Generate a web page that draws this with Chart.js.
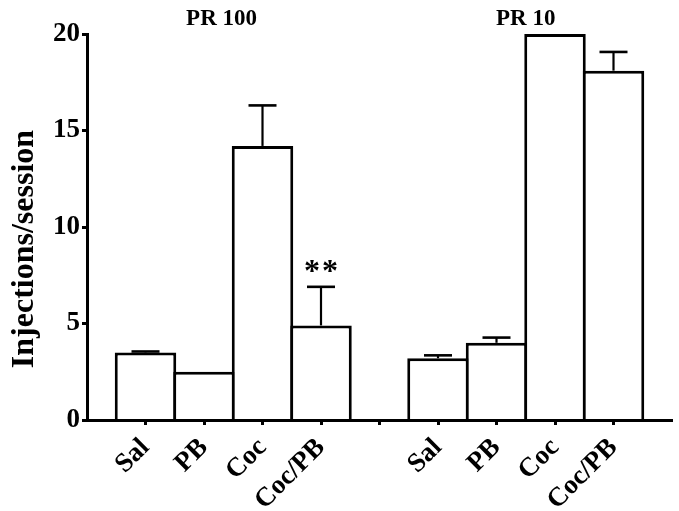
<!DOCTYPE html>
<html>
<head>
<meta charset="utf-8">
<script src="https://cdn.jsdelivr.net/npm/chart.js@4"></script>
<style>
  html, body { margin: 0; padding: 0; background: #ffffff; }
  #wrap { width: 679px; height: 511px; }
</style>
</head>
<body>
<div id="wrap"><canvas id="c" width="679" height="511"></canvas></div>
<script>
// ---- data ----
const conditions = ['Sal', 'PB', 'Coc', 'Coc/PB'];
const groupTitles = ['PR 100', 'PR 10'];
const pr100Means = [3.5, 2.5, 14.2, 4.9];
const pr100Sem   = [0.05, 0, 2.1, 2.0];
const pr10Means  = [3.2, 4.0, 20, 18.1];
const pr10Sem    = [0.15, 0.27, 0, 0.97];
const yTicks = [0, 5, 10, 15, 20];
const yTitle = 'Injections/session';
const significance = '**'; // marked over PR 100 Coc/PB

// build the category table (empty slots separate/flank the groups)
const labels = [''].concat(conditions, [''], conditions, ['']);
const values = [null].concat(pr100Means, [null], pr10Means, [null]);
const errors = [0].concat(pr100Sem, [0], pr10Sem, [0]);
const sigIndex = 1 + conditions.indexOf('Coc/PB');

const FONT = 'Liberation Serif';

const overlay = {
  id: 'overlay',
  afterDraw(chart) {
    const ctx = chart.ctx;
    const x = chart.scales.x, y = chart.scales.y;
    const meta = chart.getDatasetMeta(0);
    ctx.save();
    // error bars
    ctx.strokeStyle = '#000';
    values.forEach((v, i) => {
      const e = errors[i];
      if (v === null || !e) return;
      const bar = meta.data[i];
      const cx = bar.x;
      const yTop = y.getPixelForValue(v);
      const yCap = y.getPixelForValue(v + e);
      ctx.lineWidth = 2.2;
      ctx.beginPath(); ctx.moveTo(cx, yTop); ctx.lineTo(cx, yCap); ctx.stroke();
      ctx.lineWidth = 2.6;
      ctx.beginPath(); ctx.moveTo(cx - 14, yCap); ctx.lineTo(cx + 14, yCap); ctx.stroke();
    });
    // significance stars
    {
      const cx = meta.data[sigIndex].x;
      const yCap = y.getPixelForValue(values[sigIndex] + errors[sigIndex]);
      ctx.fillStyle = '#000';
      ctx.font = 'bold 32px "' + FONT + '"';
      ctx.textAlign = 'center';
      ctx.textBaseline = 'alphabetic';
      const chars = significance.split('');
      chars.forEach((ch, k) => {
        const off = (k - (chars.length - 1) / 2) * 18;
        ctx.fillText(ch, cx + off, yCap - 6);
      });
    }
    // group titles
    ctx.fillStyle = '#000';
    ctx.font = 'bold 23px "' + FONT + '"';
    ctx.textAlign = 'center';
    ctx.textBaseline = 'middle';
    const anchors = [2.3, 7.5];
    groupTitles.forEach((t, g) => {
      ctx.fillText(t, x.getPixelForValue(anchors[g]), 19);
    });
    // y axis title
    ctx.font = 'bold 32px "' + FONT + '"';
    ctx.translate(25, 249);
    ctx.rotate(-Math.PI / 2);
    ctx.textAlign = 'center';
    ctx.textBaseline = 'middle';
    ctx.fillText(yTitle, 0, 0);
    ctx.restore();
  }
};

const lastIdx = labels.length - 1;

new Chart(document.getElementById('c'), {
  type: 'bar',
  data: {
    labels: labels,
    datasets: [{
      data: values,
      backgroundColor: '#ffffff',
      borderColor: '#000000',
      borderWidth: 3,
      borderSkipped: 'start',
      barPercentage: 61.5 / 58.5,
      categoryPercentage: 1
    }]
  },
  options: {
    responsive: false,
    animation: false,
    devicePixelRatio: 1,
    layout: { padding: { top: 34, right: 7, left: 0, bottom: 0 } },
    plugins: { legend: { display: false }, tooltip: { enabled: false } },
    scales: {
      x: {
        type: 'category',
        offset: false,
        grid: {
          display: true,
          offset: false,
          drawOnChartArea: false,
          drawTicks: true,
          tickLength: 5,
          tickWidth: 3,
          tickColor: (c) => (c.index === 0 || c.index === lastIdx) ? 'rgba(0,0,0,0)' : '#000'
        },
        border: { display: true, color: '#000', width: 3, z: 1 },
        ticks: {
          color: '#000',
          autoSkip: false,
          maxRotation: 45,
          minRotation: 45,
          padding: 7,
          font: { family: FONT, size: 27, weight: 'bold' }
        },
        afterFit: (s) => { s.height = 91; s.paddingLeft = 0; s.paddingRight = 0; }
      },
      y: {
        min: 0,
        max: 20,
        afterBuildTicks: (s) => { s.ticks = yTicks.map(v => ({ value: v })); },
        grid: {
          display: true,
          drawOnChartArea: false,
          drawTicks: true,
          tickLength: 5,
          tickWidth: 3,
          tickColor: '#000'
        },
        border: { display: true, color: '#000', width: 3 },
        ticks: {
          color: '#000',
          padding: 2,
          font: { family: FONT, size: 27, weight: 'bold' }
        },
        afterFit: (s) => { s.width = 87; s.paddingTop = 0; s.paddingBottom = 0; }
      }
    }
  },
  plugins: [overlay]
});
</script>
</body>
</html>
